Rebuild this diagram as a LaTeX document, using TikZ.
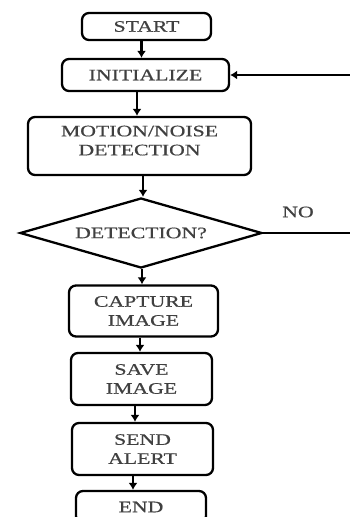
\documentclass[tikz,border=0pt]{standalone}
\usepackage{fontspec}
\setmainfont[FakeStretch=1.36,FakeBold=0.6]{Liberation Serif}
\usetikzlibrary{positioning,calc,shapes.geometric,arrows.meta}
\definecolor{flowtext}{HTML}{404040}
\tikzstyle{flowline} = [
    line width=2.3pt,
    draw=black
]

\begin{document}
\begin{tikzpicture}[x=1pt, y=-1pt,
        procbox/.style n args={2}{
            rectangle, rounded corners=7pt,
            draw=black, line width=2.3pt, fill=white,
            minimum width=#1,
            minimum height=#2,
            inner sep=0pt,
            align=center, text=flowtext,
            font=\fontsize{16}{19}\selectfont
        },
        decisionbox/.style = {
            diamond, draw=black, line width=2.3pt,
            minimum width=242pt, minimum height=70pt,
            inner sep=0pt, aspect=3.4,
            text=flowtext, font=\fontsize{16}{19}\selectfont
        },
        flowarrow/.style = {
            flowline, -{Latex[length=7pt,width=9pt]}
        }
    ]
        \useasboundingbox (0,0) rectangle (350,517);

        \node[procbox={129pt}{27pt}] (start) at (146.5,26.5) {START};
        \node[procbox={167pt}{32pt}] (init) at (145.5,75) {INITIALIZE};
        \node[procbox={223pt}{58pt}] (detect) at (139.5,146) {MOTION/NOISE\\DETECTION\\[-8pt]\mbox{}};
        \node[decisionbox] (decision) at (141,233) {DETECTION?};
        \node[procbox={149pt}{51pt}] (capture) at (143.5,311) {CAPTURE\\IMAGE};
        \node[procbox={141pt}{52pt}] (save) at (141.5,379) {SAVE\\IMAGE};
        \node[procbox={141pt}{52pt}] (send) at (142.5,449) {SEND\\ALERT};
        \node[procbox={130pt}{32pt}] (end) at (141,507) {END};

        \coordinate (loopin) at (351,75);
        \coordinate (loopout) at (351,233);
        \node[text=flowtext, font=\fontsize{16}{19}\selectfont] (nolabel) at (298,212) {NO};

        % main flow
        \draw[flowarrow] ([xshift=-5pt]start.south) -- ([xshift=-5pt]start.south |- init.north);
        \draw[flowarrow] ([xshift=-8.5pt]init.south) -- ([xshift=-8.5pt]init.south |- detect.north);
        \draw[flowarrow] ([xshift=3.5pt]detect.south) -- ([xshift=3.5pt]detect.south |- decision.north);
        \draw[flowarrow] ([xshift=1pt]decision.south) -- ([xshift=1pt]decision.south |- capture.north);
        \draw[flowarrow] ([xshift=-3.5pt]capture.south) -- ([xshift=-3.5pt]capture.south |- save.north);
        \draw[flowarrow] ([xshift=-6.5pt]save.south) -- ([xshift=-6.5pt]save.south |- send.north);
        \draw[flowarrow] ([xshift=-9.5pt]send.south) -- ([xshift=-9.5pt]send.south |- end.north);

        % loop back
        \draw[flowline] (decision.east) -- (loopout);
        \draw[flowarrow] (loopin) -- (init.east);
    \end{tikzpicture}
\end{document}
